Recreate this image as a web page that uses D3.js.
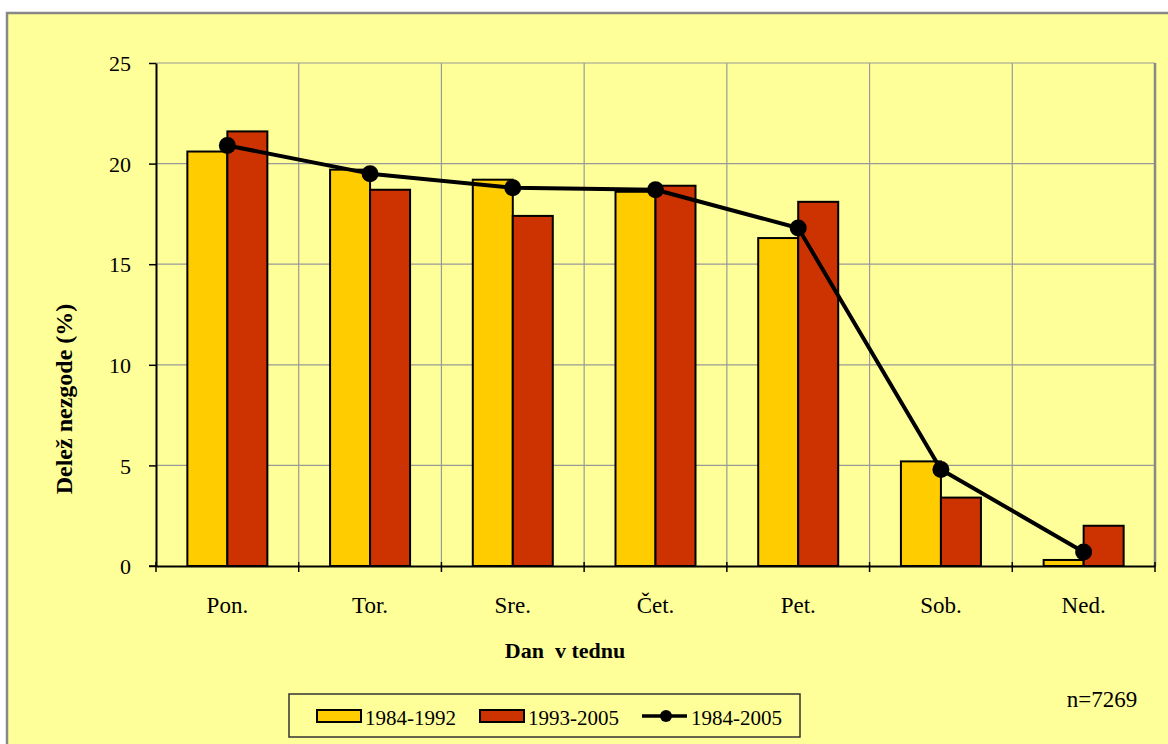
<!DOCTYPE html>
<html><head><meta charset="utf-8">
<script src="https://cdn.jsdelivr.net/npm/d3@7"></script>
<style>html,body{margin:0;padding:0;background:#fff;}svg{display:block;}
svg text{font-family:"Liberation Serif","Times New Roman",Times,serif !important;}</style>
</head><body>
<script>
const categories = ["Pon.", "Tor.", "Sre.", "Čet.", "Pet.", "Sob.", "Ned."];
const series1984_1992 = [20.6, 19.7, 19.2, 18.6, 16.3, 5.2, 0.3];
const series1993_2005 = [21.6, 18.7, 17.4, 18.9, 18.1, 3.4, 2.0];
const series1984_2005 = [20.9, 19.5, 18.8, 18.7, 16.8, 4.8, 0.7];
const yTicks = [0, 5, 10, 15, 20, 25];
const legendLabels = ["1984-1992", "1993-2005", "1984-2005"];

const W = 1168, H = 744;
const svg = d3.select("body").append("svg").attr("width", W).attr("height", H);
const font = "Liberation Serif";

svg.append("rect").attr("x", 7).attr("y", 13).attr("width", W + 10).attr("height", H + 10)
  .attr("fill", "#FFFF99").attr("stroke", "#888").attr("stroke-width", 2.5);

const L = 156, R = 1155, T = 63, B = 566;
const x = d3.scaleBand().domain(categories).range([L, R]).paddingInner(0).paddingOuter(0);
const y = d3.scaleLinear().domain([0, 25]).range([B, T]);

// plot frame and gridlines
const g = svg.append("g");
g.selectAll(".hg").data(yTicks.slice(1)).enter().append("line")
  .attr("x1", L).attr("x2", R).attr("y1", d => y(d)).attr("y2", d => y(d))
  .attr("stroke", "#999").attr("stroke-width", 1.2);
g.selectAll(".vg").data(categories.slice(1)).enter().append("line")
  .attr("x1", d => x(d)).attr("x2", d => x(d)).attr("y1", T).attr("y2", B)
  .attr("stroke", "#999").attr("stroke-width", 1.2);
g.append("line").attr("x1", R).attr("x2", R).attr("y1", T).attr("y2", B).attr("stroke", "#888").attr("stroke-width", 2.5);

const bw = 40;
const sub = d3.scaleBand().domain([0, 1]).range([0, 2 * bw]);
const off = (x.bandwidth() - 2 * bw) / 2;
const colors = ["#FFCC00", "#CC3300"];
[series1984_1992, series1993_2005].forEach((s, i) => {
  g.selectAll(".b" + i).data(s).enter().append("rect")
    .attr("x", (d, j) => x(categories[j]) + off + sub(i))
    .attr("y", d => y(d)).attr("width", sub.bandwidth()).attr("height", d => B - y(d))
    .attr("fill", colors[i]).attr("stroke", "#000").attr("stroke-width", 2);
});

// axes
const yAxis = d3.axisLeft(y).tickValues(yTicks).tickSize(0).tickPadding(25);
const ya = svg.append("g").attr("transform", `translate(${L},0)`).call(yAxis);
ya.attr("font-family", null).attr("font-size", null);
ya.select(".domain").attr("stroke", "#000").attr("stroke-width", 2);
ya.selectAll("text").style("font-size", "22px").attr("fill", "#000").attr("dy", "0.35em");
ya.selectAll(".tick").append("line").attr("x1", -7).attr("x2", 0).attr("stroke", "#000").attr("stroke-width", 1.5);

const xAxis = d3.axisBottom(x).tickSize(0);
const xa = svg.append("g").attr("transform", `translate(0,${B})`).call(xAxis);
xa.attr("font-family", null).attr("font-size", null);
xa.select(".domain").attr("stroke", "#000").attr("stroke-width", 2);
xa.selectAll("text").style("font-size", "23px").attr("fill", "#000")
  .attr("y", 47).attr("dy", 0);
xa.selectAll(".bt").data(categories.concat(["end"])).enter().append("line")
  .attr("x1", (d, i) => L + i * x.bandwidth()).attr("x2", (d, i) => L + i * x.bandwidth())
  .attr("y1", -4).attr("y2", 6).attr("stroke", "#000").attr("stroke-width", 1.5);
svg.append("line").attr("x1", L - 7).attr("x2", L).attr("y1", B).attr("y2", B).attr("stroke", "#000").attr("stroke-width", 1.5);

// line
const cx = c => x(c) + x.bandwidth() / 2;
const line = d3.line().x((d, i) => cx(categories[i])).y(d => y(d));
svg.append("path").datum(series1984_2005).attr("d", line).attr("fill", "none")
  .attr("stroke", "#000").attr("stroke-width", 4).attr("stroke-linejoin", "round");
svg.selectAll(".pt").data(series1984_2005).enter().append("circle")
  .attr("cx", (d, i) => cx(categories[i])).attr("cy", d => y(d)).attr("r", 8.5).attr("fill", "#000");

// axis titles
svg.append("text").attr("transform", "translate(72,399) rotate(-90)").attr("text-anchor", "middle")
  .style("font-weight", "bold").style("font-size", "24px").text("Delež nezgode (%)");
svg.append("text").attr("x", 565).attr("y", 658).attr("text-anchor", "middle").attr("xml:space", "preserve")
  .style("font-weight", "bold").style("font-size", "22px").style("white-space", "pre").text("Dan  v tednu");

svg.append("text").attr("x", 1102).attr("y", 707).attr("text-anchor", "middle")
  .style("font-size", "23px").text("n=7269");

// legend
const lg = svg.append("g");
lg.append("rect").attr("x", 289).attr("y", 694).attr("width", 511).attr("height", 43)
  .attr("fill", "none").attr("stroke", "#333").attr("stroke-width", 1.5);
const lx = [317, 480, 642];
const tx = [365, 528, 691];
[0, 1].forEach(i => {
  lg.append("rect").attr("x", lx[i]).attr("y", 710).attr("width", 44).attr("height", 12)
    .attr("fill", colors[i]).attr("stroke", "#000").attr("stroke-width", 2);
});
lg.append("line").attr("x1", lx[2]).attr("x2", lx[2] + 45).attr("y1", 716).attr("y2", 716)
  .attr("stroke", "#000").attr("stroke-width", 3.5);
lg.append("circle").attr("cx", lx[2] + 24).attr("cy", 716).attr("r", 6).attr("fill", "#000");
legendLabels.forEach((t, i) => {
  lg.append("text").attr("x", tx[i]).attr("y", 725).style("font-size", "21px").text(t);
});
</script>
</body></html>
